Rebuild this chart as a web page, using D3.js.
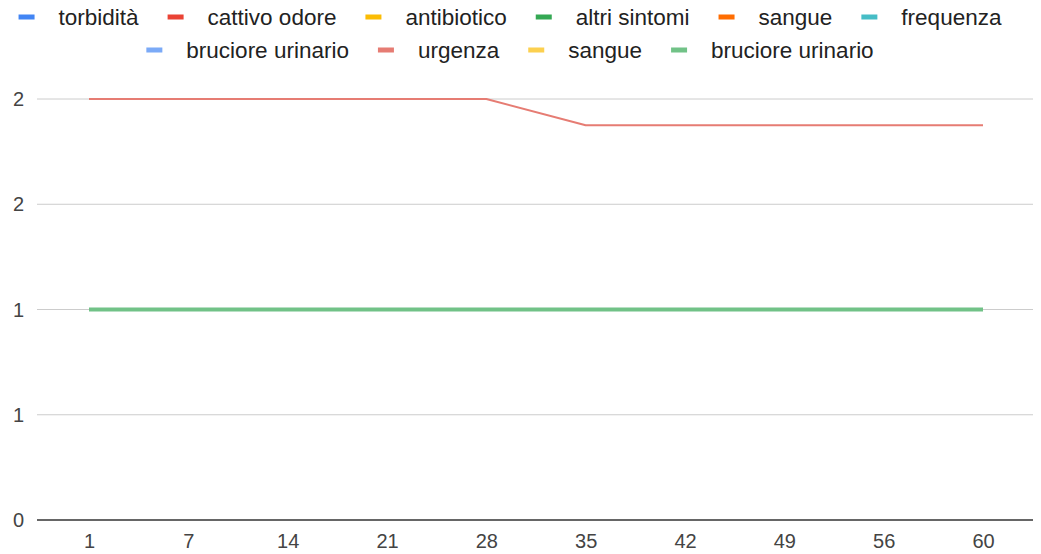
<!DOCTYPE html>
<html>
<head>
<meta charset="utf-8">
<script src="https://cdn.jsdelivr.net/npm/d3@7"></script>
<style>
  html, body { margin: 0; padding: 0; background: #fff; }
  svg { display: block; }
  text { font-family: "Liberation Sans", Arial, sans-serif; }
</style>
</head>
<body>
<svg id="chart" width="1041" height="554"></svg>
<script>
// ---- data ----
const categories = ["1", "7", "14", "21", "28", "35", "42", "49", "56", "60"];
const seriesNames = ["torbidità", "cattivo odore", "antibiotico", "altri sintomi", "sangue", "frequenza",
                     "bruciore urinario", "urgenza", "sangue", "bruciore urinario"];
const seriesColors = ["#4285f4", "#ea4335", "#fbbc04", "#34a853", "#ff6d01", "#46bdc6",
                      "#7baaf7", "#e67c73", "#fcd04f", "#71c287"];
const torbidita        = [1, 1, 1, 1, 1, 1, 1, 1, 1, 1];
const cattivoOdore     = [1, 1, 1, 1, 1, 1, 1, 1, 1, 1];
const antibiotico      = [1, 1, 1, 1, 1, 1, 1, 1, 1, 1];
const altriSintomi     = [1, 1, 1, 1, 1, 1, 1, 1, 1, 1];
const sangue           = [1, 1, 1, 1, 1, 1, 1, 1, 1, 1];
const frequenza        = [1, 1, 1, 1, 1, 1, 1, 1, 1, 1];
const bruciore1        = [1, 1, 1, 1, 1, 1, 1, 1, 1, 1];
const urgenza          = [2, 2, 2, 2, 2, 1.875, 1.875, 1.875, 1.875, 1.875];
const sangue2          = [1, 1, 1, 1, 1, 1, 1, 1, 1, 1];
const bruciore2        = [1, 1, 1, 1, 1, 1, 1, 1, 1, 1];
const seriesValues = [torbidita, cattivoOdore, antibiotico, altriSintomi, sangue, frequenza,
                      bruciore1, urgenza, sangue2, bruciore2];
const yTickValues = [0, 0.5, 1, 1.5, 2];
const yTickLabels = ["0", "1", "1", "2", "2"];

// ---- layout ----
const svg = d3.select("#chart");
const plotLeft = 37, plotRight = 1033, plotTop = 99, plotBottom = 520;

const x = d3.scalePoint().domain(categories).range([89, 983]);
const y = d3.scaleLinear().domain([0, 2]).range([plotBottom, plotTop]);

// gridlines
svg.append("g").selectAll("line")
  .data(yTickValues.filter(v => v !== 0))
  .join("line")
  .attr("x1", plotLeft).attr("x2", plotRight)
  .attr("y1", d => y(d)).attr("y2", d => y(d))
  .attr("stroke", "#cccccc").attr("stroke-width", 1);

// y labels
svg.append("g").selectAll("text")
  .data(yTickValues)
  .join("text")
  .attr("x", 24).attr("y", d => y(d))
  .attr("dy", "0.35em")
  .attr("text-anchor", "end")
  .attr("font-size", 20)
  .attr("fill", "#444")
  .text((d, i) => yTickLabels[i]);

// series lines
const line = d3.line()
  .x((d, i) => x(categories[i]))
  .y(d => y(d));

const widths = seriesNames.map((n, i) => i === seriesNames.length - 1 ? 4 : 2);
svg.append("g").selectAll("path")
  .data(seriesValues)
  .join("path")
  .attr("d", d => line(d))
  .attr("fill", "none")
  .attr("stroke", (d, i) => seriesColors[i])
  .attr("stroke-width", (d, i) => widths[i])
  .attr("stroke-linejoin", "round");

// baseline
svg.append("line")
  .attr("x1", plotLeft).attr("x2", plotRight)
  .attr("y1", y(0)).attr("y2", y(0))
  .attr("stroke", "#333").attr("stroke-width", 1.5);

// x labels
const xAxis = d3.axisBottom(x).tickSize(0).tickPadding(0);
const gx = svg.append("g").attr("transform", `translate(0,${plotBottom})`).call(xAxis);
gx.select(".domain").remove();
gx.selectAll("text")
  .attr("y", 21).attr("dy", "0.35em")
  .attr("font-size", 20)
  .attr("font-family", "Liberation Sans, Arial, sans-serif")
  .attr("fill", "#444");

// legend
const legendFont = 22.5, swW = 16, swH = 5, swGap = 24, itemGap = 29, maxW = 1000, legendCenter = 510;
const rowYs = [17, 50];
const legend = svg.append("g");
const items = seriesNames.map((name, i) => {
  const t = legend.append("text").attr("font-size", legendFont).attr("fill", "#222").text(name);
  return { name, i, t, w: t.node().getComputedTextLength() };
});
const rows = [[]];
let cur = 0;
items.forEach(it => {
  const iw = swW + swGap + it.w;
  const add = (rows[rows.length - 1].length ? itemGap : 0) + iw;
  if (cur + add > maxW && rows[rows.length - 1].length) { rows.push([]); cur = 0; }
  cur += (rows[rows.length - 1].length ? itemGap : 0) + iw;
  rows[rows.length - 1].push(it);
});
rows.forEach((row, r) => {
  const total = d3.sum(row, it => swW + swGap + it.w) + itemGap * (row.length - 1);
  let xx = legendCenter - total / 2;
  const cy = rowYs[r];
  row.forEach(it => {
    legend.append("rect").attr("x", xx).attr("y", cy - swH / 2).attr("width", swW).attr("height", swH)
      .attr("fill", seriesColors[it.i]);
    it.t.attr("x", xx + swW + swGap).attr("y", cy).attr("dy", "0.35em");
    xx += swW + swGap + it.w + itemGap;
  });
});
</script>
</body>
</html>
